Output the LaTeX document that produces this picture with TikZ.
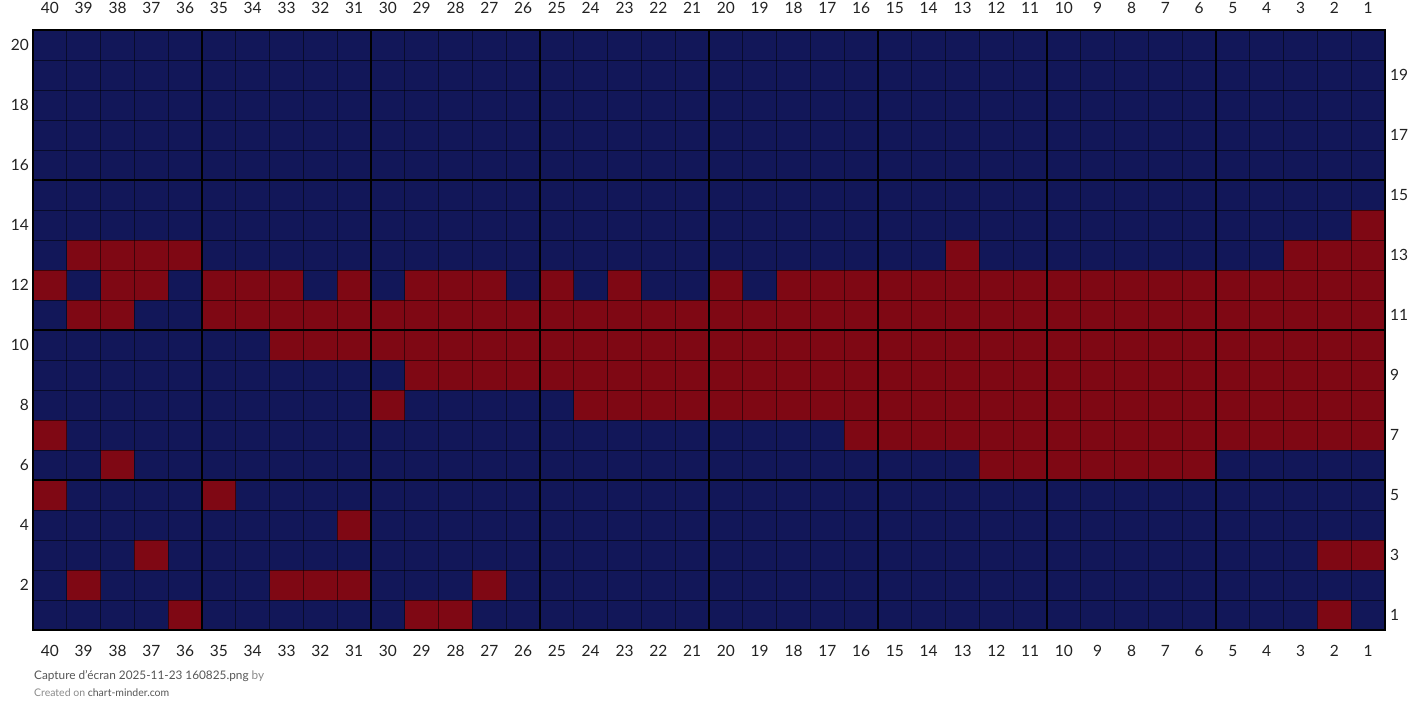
\documentclass[tikz,border=0pt]{standalone}
\usepackage{fontspec}
\setmainfont{Lato}
\definecolor{navy}{HTML}{121759}
\definecolor{wine}{HTML}{7F0814}
\definecolor{lbl}{HTML}{222222}
\definecolor{foot}{HTML}{555555}
\definecolor{footlight}{HTML}{8A8A8A}
\begin{document}
\begin{tikzpicture}[x=1pt,y=-1pt,
  lab/.style={font=\fontsize{15.5}{18}\selectfont, text=lbl, inner sep=0pt},
  gridthin/.style={draw=black, draw opacity=0.5, line width=1pt},
  gridthick/.style={draw=black, line width=2pt}]
\useasboundingbox (0,0) rectangle (1418,723);
\def\L{33}\def\T{30}\def\W{33.8}\def\H{30}
% background of cells
\fill[navy] (\L,\T) rectangle (1385,630);
% red cells: row/{columns}
\foreach \r/\cl in {
  14/{1},
  13/{39,38,37,36,13,3,2,1},
  12/{40,38,37,35,34,33,31,29,28,27,25,23,20},
  12/{18,17,...,1},
  11/{39,38},
  11/{35,34,...,1},
  10/{33,32,...,1},
  9/{29,28,...,1},
  8/{30},
  8/{24,23,...,1},
  7/{40},
  7/{16,15,...,1},
  6/{38,12,11,10,9,8,7,6},
  5/{40,35},
  4/{31},
  3/{37,2,1},
  2/{39,33,32,31,27},
  1/{36,29,28,2}}{
  \foreach \c in \cl {
    \fill[wine] ({\L+(40-\c)*\W},{\T+(20-\r)*\H}) rectangle ++(\W,\H);
  }
}
% thin grid
\foreach \i in {1,...,39} {\draw[gridthin] ({\L+\i*\W},\T) -- ({\L+\i*\W},630);}
\foreach \j in {1,...,19} {\draw[gridthin] (\L,{\T+\j*\H}) -- (1385,{\T+\j*\H});}
% thick grid
\foreach \i in {5,10,...,35} {\draw[gridthick] ({\L+\i*\W},\T) -- ({\L+\i*\W},630);}
\foreach \j in {5,10,15} {\draw[gridthick] (\L,{\T+\j*\H}) -- (1385,{\T+\j*\H});}
\draw[draw=black, line width=2.5pt] (\L,\T) rectangle (1385,630);
% column labels
\foreach \c in {1,...,40} {
  \node[lab] (top\c) at ({\L+(40-\c+0.5)*\W},8) {\c};
  \node[lab] (bot\c) at ({\L+(40-\c+0.5)*\W},651) {\c};
}
% row labels
\foreach \r in {2,4,...,20} {
  \node[lab, anchor=east] (lr\r) at (29,{\T+(20-\r+0.5)*\H}) {\r};
}
\foreach \r in {1,3,...,19} {
  \node[lab, anchor=west] (rr\r) at (1390,{\T+(20-\r+0.5)*\H}) {\r};
}
% footer
\node[anchor=base west, inner sep=0pt, font=\fontsize{11.8}{14}\selectfont] (f1) at (34,679)
  {\textcolor{foot}{Capture d'écran 2025-11-23 160825.png} \textcolor{footlight}{by}};
\node[anchor=base west, inner sep=0pt, font=\fontsize{10.5}{12}\selectfont] (f2) at (34,696.5)
  {\textcolor{footlight}{Created on} \textcolor{foot}{chart-minder.com}};
\end{tikzpicture}
\end{document}
